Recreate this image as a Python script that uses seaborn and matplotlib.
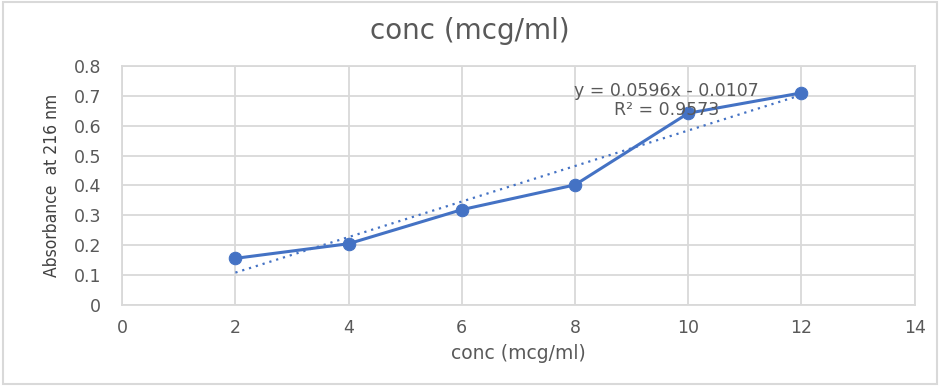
import numpy as np
import pandas as pd
import matplotlib.pyplot as plt
import seaborn as sns

conc = [2, 4, 6, 8, 10, 12]
absorbance = [0.156, 0.205, 0.319, 0.402, 0.642, 0.710]
x_ticks = [0, 2, 4, 6, 8, 10, 12, 14]
y_ticks = [0, 0.1, 0.2, 0.3, 0.4, 0.5, 0.6, 0.7, 0.8]

df = pd.DataFrame({"conc": conc, "abs": absorbance})

sns.set_style("white")
plt.rcParams['font.family'] = ['DejaVu Sans']

blue = "#4472C4"
grey = "#595959"

fig = plt.figure(figsize=(9.4, 3.86), dpi=100)
ax = fig.add_axes([0.130, 0.210, 0.843, 0.619])

# linear trendline
m, b = np.polyfit(conc, absorbance, 1)
trend = pd.DataFrame({"conc": conc, "fit": m * np.array(conc) + b})
sns.lineplot(data=trend, x="conc", y="fit", ax=ax, color=blue, lw=1.6,
             linestyle=(0, (1, 2.2)), zorder=2)

sns.lineplot(data=df, x="conc", y="abs", ax=ax, color=blue, lw=2.2,
             marker="o", markersize=9, markeredgecolor=blue, zorder=3)

ax.set_xlim(0, 14)
ax.set_ylim(0, 0.8)
ax.set_xticks(x_ticks)
ax.set_yticks(y_ticks)
ax.set_xticklabels([str(t) for t in x_ticks])
ax.set_yticklabels(["0", "0.1", "0.2", "0.3", "0.4", "0.5", "0.6", "0.7", "0.8"])
ax.grid(True, color="#d9d9d9", lw=1.3)
ax.set_axisbelow(True)
for s in ax.spines.values():
    s.set_color("#d9d9d9")
    s.set_linewidth(1.3)
ax.tick_params(length=0, labelsize=12.5, colors=grey)
ax.tick_params(axis="x", pad=10)
ax.tick_params(axis="y", pad=15)

ax.set_xlabel("conc (mcg/ml)", fontsize=13.5, color=grey)
ax.xaxis.set_label_coords(0.5, -0.165)
ax.set_ylabel("Absorbance  at 216 nm", fontsize=12.5, color="#404040",
              family="DejaVu Sans", fontstretch="condensed")
ax.yaxis.set_label_coords(-0.077, 0.5)

fig.text(0.5, 0.92, "conc (mcg/ml)", ha="center", va="center",
         fontsize=20, color=grey)

ax.text(9.62, 0.716, "y = 0.0596x - 0.0107", ha="center", va="center",
        fontsize=12.5, color=grey)
ax.text(9.62, 0.652, "R\u00b2 = 0.9573", ha="center", va="center",
        fontsize=12.5, color=grey)

# chart border
fig.patches.append(plt.Rectangle((0.003, 0.005), 0.994, 0.99, transform=fig.transFigure,
                                 fill=False, edgecolor="#d9d9d9", lw=1.5))

fig.savefig("out.png", dpi=100)
